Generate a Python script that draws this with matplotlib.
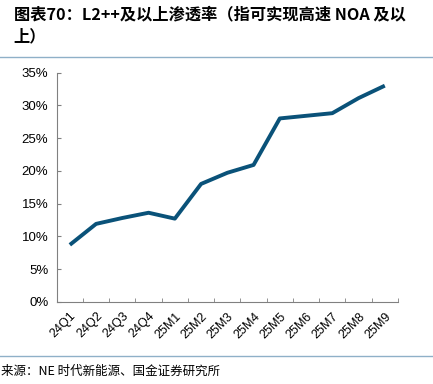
import matplotlib.pyplot as plt
from matplotlib.ticker import PercentFormatter
from matplotlib.lines import Line2D

plt.rcParams['font.family'] = ['Liberation Sans', 'Noto Sans CJK SC', 'DejaVu Sans']

# 数据
periods = ['24Q1', '24Q2', '24Q3', '24Q4', '25M1', '25M2', '25M3',
           '25M4', '25M5', '25M6', '25M7', '25M8', '25M9']
rate = [8.7, 11.9, 12.8, 13.6, 12.7, 18.0, 19.7,
        20.9, 28.0, 28.4, 28.8, 31.1, 33.0]

fig = plt.figure(figsize=(4.33, 3.84), dpi=100)
ax = fig.add_axes([0.131, 0.214, 0.788, 0.597])

x = range(len(periods))
ax.plot(x, rate, color='#0a5279', lw=2.8, solid_capstyle='butt')

ax.set_xlim(-0.5, len(periods) - 0.5)
ax.set_ylim(0, 35)
ax.set_yticks(range(0, 36, 5))
ax.yaxis.set_major_formatter(PercentFormatter(decimals=0))
ax.set_xticks(x)
ax.set_xticklabels(periods, rotation=45, ha='right', rotation_mode='anchor')
ax.set_xticks([i - 0.5 for i in range(len(periods) + 1)], minor=True)
ax.tick_params(axis='x', which='major', length=0, pad=6, labelsize=9)
ax.tick_params(axis='x', which='minor', direction='in', length=3, color='#808080')
ax.tick_params(axis='y', direction='in', length=3, color='#808080', labelsize=9.5, pad=6)

for s in ['top', 'right']:
    ax.spines[s].set_visible(False)
for s in ['left', 'bottom']:
    ax.spines[s].set_color('#808080')
    ax.spines[s].set_linewidth(0.8)

title_font = ['Noto Sans CJK SC', 'DejaVu Sans']
fig.text(0.032, 0.963, '图表70：L2++及以上渗透率（指可实现高速 NOA 及以',
         family=title_font, fontsize=11.7, fontweight='bold', va='center', style='italic')
fig.text(0.032, 0.906, '上）', family=title_font, fontsize=11.7,
         fontweight='bold', va='center', style='italic')
fig.add_artist(Line2D([0.0, 1.0], [0.851, 0.851], color='#8fb0c8', lw=1.0))
fig.add_artist(Line2D([0.0, 1.0], [0.072, 0.072], color='#8fb0c8', lw=1.0))
fig.text(0.002, 0.034, '来源：NE 时代新能源、国金证券研究所',
         family=title_font, fontsize=9, va='center')

fig.savefig('out.png', dpi=100)
